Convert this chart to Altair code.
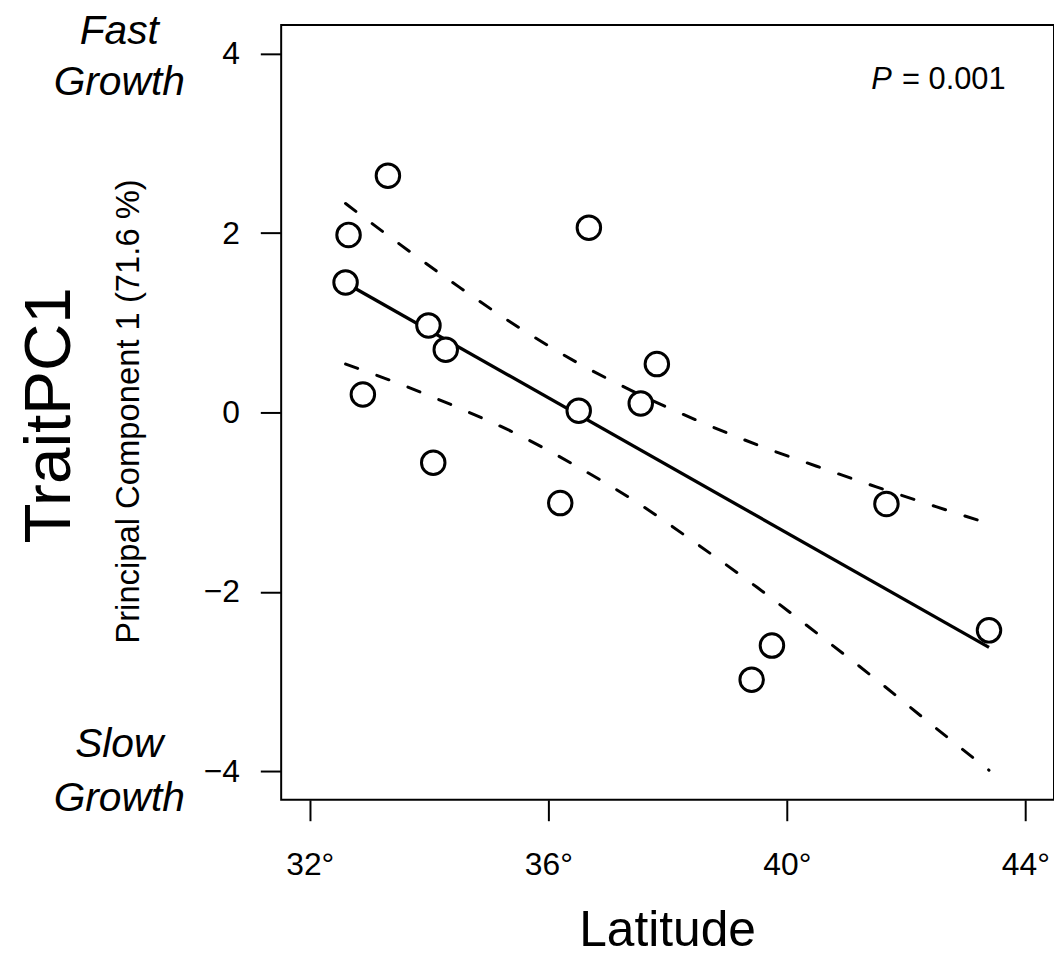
import altair as alt
import pandas as pd

# ---- data ----
lat = [33.31, 32.65, 32.60, 32.89, 33.99, 34.28, 34.07, 36.68, 36.51, 36.20,
       37.82, 37.55, 39.41, 39.75, 41.67, 43.39]
pc1 = [2.64, 1.98, 1.45, 0.20, 0.97, 0.70, -0.56, 2.06, 0.02, -1.01,
       0.54, 0.10, -2.98, -2.60, -1.02, -2.43]

# dashed confidence band
ci_lat = [32.60, 33.5, 34.5, 35.5, 36.5, 37.5, 38.5, 39.5, 40.5, 41.5, 42.5, 43.39]
ci_upper = [2.33, 1.88, 1.40, 0.95, 0.55, 0.21, -0.09, -0.36, -0.60, -0.83, -1.05, -1.24]
ci_lower = [0.54, 0.32, 0.05, -0.25, -0.61, -1.01, -1.47, -1.95, -2.46, -2.98, -3.52, -3.99]

x_ticks = [32, 36, 40, 44]
y_ticks = [-4, -2, 0, 2, 4]

FONT = "Liberation Sans"

pts = pd.DataFrame({"lat": lat, "pc1": pc1})
ci = pd.DataFrame({"lat": ci_lat, "upper": ci_upper, "lower": ci_lower})
ann = pd.DataFrame({"k": [0]})

xscale = alt.Scale(domain=[31.52, 44.48], nice=False, zero=False)
yscale = alt.Scale(domain=[-4.32, 4.32], nice=False, zero=False)

xaxis = alt.Axis(values=x_ticks, labelExpr="datum.value + '°'", title=None,
                 grid=False, domain=False, ticks=True, tickSize=21, tickWidth=2,
                 tickColor="black", labelFont=FONT, labelFontSize=32,
                 labelColor="black", labelPadding=29, labelBaseline="top",
                 labelFlush=False, labelOverlap=False)
yaxis = alt.Axis(values=y_ticks,
                 labelExpr="datum.value < 0 ? '\u2212' + abs(datum.value) : '' + datum.value",
                 title=None, grid=False, domain=False, ticks=True, tickSize=21,
                 tickWidth=2, tickColor="black", labelFont=FONT, labelFontSize=32,
                 labelColor="black", labelPadding=21, labelAlign="right",
                 labelBaseline="middle", labelFlush=False, labelOverlap=False)

X = alt.X("lat:Q", scale=xscale, axis=xaxis)

base = alt.Chart(pts)

reg = base.transform_regression("lat", "pc1").mark_line(
    color="black", strokeWidth=3.3
).encode(x=X, y=alt.Y("pc1:Q", scale=yscale, axis=yaxis))

points = base.mark_point(
    shape="circle", filled=True, fill="white", stroke="black",
    strokeWidth=3, size=560, opacity=1, fillOpacity=1
).encode(x=X, y=alt.Y("pc1:Q", scale=yscale, axis=yaxis))

dash = dict(color="black", strokeWidth=3, strokeDash=[13, 20.5],
            strokeCap="round", interpolate="monotone")
upper = alt.Chart(ci).mark_line(**dash).encode(
    x=X, y=alt.Y("upper:Q", scale=yscale, axis=yaxis))
lower = alt.Chart(ci).mark_line(**dash).encode(
    x=X, y=alt.Y("lower:Q", scale=yscale, axis=yaxis))


def label(text, x, y, size, style="normal", angle=0, align="center",
          baseline="alphabetic"):
    return alt.Chart(ann).mark_text(
        text=text, font=FONT, fontSize=size, fontStyle=style, angle=angle,
        align=align, baseline=baseline, color="black"
    ).encode(x=alt.value(x), y=alt.value(y))


texts = [
    label("Fast", -163, 19.3, 41, "italic"),
    label("Growth", -163, 70.5, 41, "italic"),
    label("Slow", -163, 737, 41, "italic"),
    label("Growth", -163, 791, 41, "italic"),
    label("TraitPC1", -213, 393, 66, angle=270),
    label("Principal Component 1 (71.6 %)", -143, 389, 33, angle=270),
    label("Latitude", 389, 927, 50),
    label("P", 594, 64.7, 31, "italic", align="left"),
    label("= 0.001", 625, 64.7, 31, align="left"),
]

chart = alt.layer(reg, points, upper, lower, *texts).properties(
    width=778,
    height=780,
    padding={"left": 275, "top": 14, "right": 0, "bottom": 148},
    autosize=alt.AutoSizeParams(type="none"),
    background="white",
).configure_view(stroke="black", strokeWidth=2)

chart.save("out.html", embed_options={"renderer": "svg", "actions": False})
